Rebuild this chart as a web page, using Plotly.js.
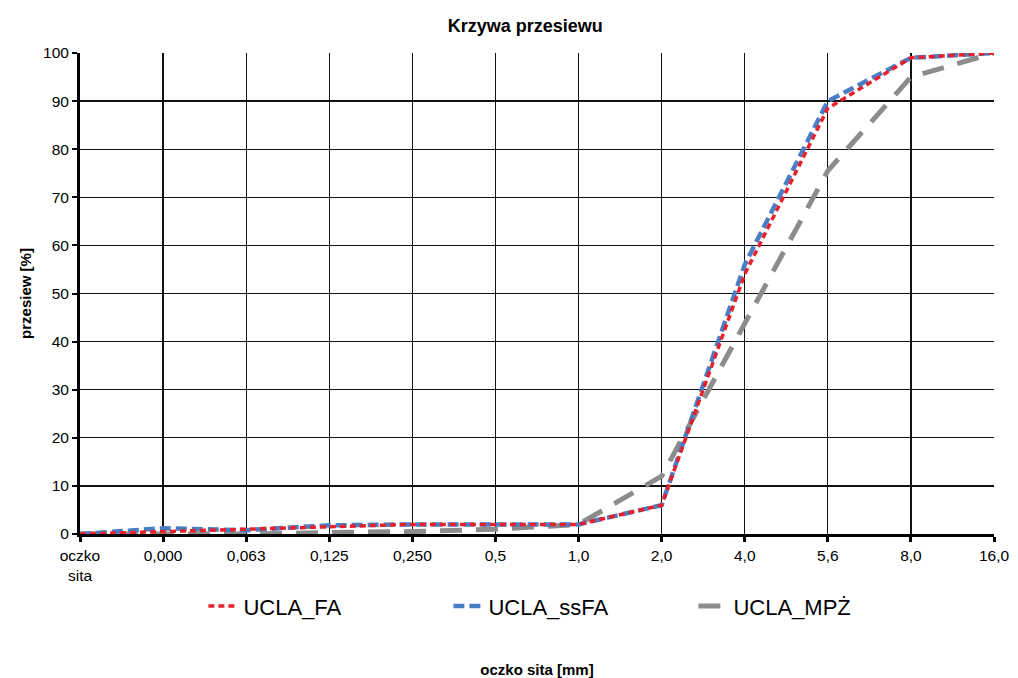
<!DOCTYPE html>
<html>
<head>
<meta charset="utf-8">
<script src="https://cdn.plot.ly/plotly-3.0.1.min.js"></script>
<style>html,body{margin:0;padding:0;background:#fff;}#chart{width:1018px;height:678px;}</style>
</head>
<body>
<div id="chart"></div>
<script>
const categories = ["oczko<br>sita","0,000","0,063","0,125","0,250","0,5","1,0","2,0","4,0","5,6","8,0","16,0"];
const ucla_FA   = [0, 0.5, 1, 1.5, 2, 2, 2, 6, 54, 88.5, 99, 100];
const ucla_ssFA = [0, 1.2, 0.8, 1.8, 2, 2, 2, 6, 56, 90, 99, 100];
const ucla_MPZ  = [0, 0, 0, 0.3, 0.5, 1, 2, 12, 44, 75.5, 95, 100];
const seriesNames = ["UCLA_FA", "UCLA_ssFA", "UCLA_MPŻ"];

const font = "Liberation Sans, Arial, sans-serif";
const traces = [
  {x: categories, y: ucla_MPZ, name: seriesNames[2], mode: "lines",
   line: {color: "#8c8c8c", width: 5, dash: "22px,14px"}},
  {x: categories, y: ucla_ssFA, name: seriesNames[1], mode: "lines",
   line: {color: "#4a7ec4", width: 4.5, dash: "11px,5px"}},
  {x: categories, y: ucla_FA, name: seriesNames[0], mode: "lines",
   line: {color: "#e8202a", width: 3.5, dash: "6px,4px"}}
];
const layout = {
  width: 1018, height: 678,
  margin: {l: 80, r: 24, t: 53, b: 144},
  paper_bgcolor: "#fff", plot_bgcolor: "#fff",
  font: {family: font, color: "#000", size: 15},
  title: {text: "<b>Krzywa przesiewu</b>", x: 0.516, xanchor: "center", y: 0.962, yanchor: "middle",
          font: {family: font, size: 18, color: "#000"}},
  showlegend: true,
  legend: {orientation: "h", x: 0.135, xanchor: "left", y: -0.15, yanchor: "middle",
           font: {family: font, size: 22, color: "#000"}, traceorder: "reversed",
           entrywidth: 200, entrywidthmode: "pixels", tracegroupgap: 0, bgcolor: "rgba(0,0,0,0)"},
  xaxis: {type: "category", range: [0, 11], showgrid: true, gridcolor: "#111", gridwidth: 1.3,
          showline: true, linecolor: "#000", linewidth: 3, ticks: "outside", ticklen: 5, tickwidth: 3,
          tickcolor: "#000", tickfont: {family: font, size: 15.5, color: "#000"}, zeroline: false,
          title: {text: "<b>oczko sita [mm]</b>", font: {family: font, size: 15, color: "#000"}, standoff: 92}},
  yaxis: {range: [0, 100], dtick: 10, showgrid: true, gridcolor: "#111", gridwidth: 1.3,
          showline: true, linecolor: "#000", linewidth: 3, ticks: "outside", ticklen: 5, tickwidth: 2,
          tickcolor: "#000", tickfont: {family: font, size: 15.5, color: "#000"}, zeroline: false,
          title: {text: "<b>przesiew [%]</b>", font: {family: font, size: 15, color: "#000"}, standoff: 8}}
};
Plotly.newPlot("chart", traces, layout, {displayModeBar: false, staticPlot: true});
</script>
</body>
</html>
